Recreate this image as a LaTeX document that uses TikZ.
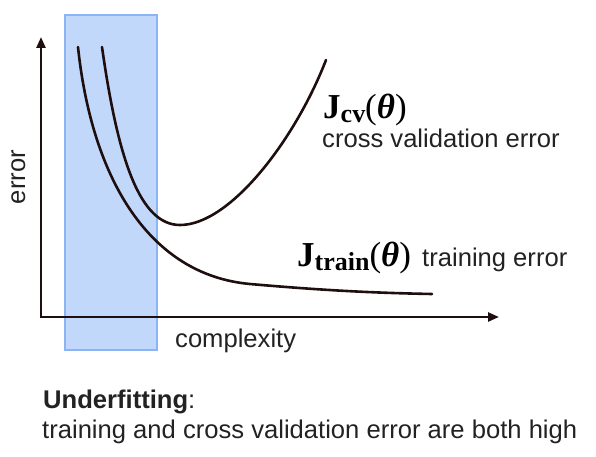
\documentclass[tikz,border=0pt]{standalone}
\usepackage{fontspec}
\setmainfont{Liberation Sans}
\newfontfamily\jfont{Liberation Serif}
\usetikzlibrary{arrows.meta}
\definecolor{curvecol}{RGB}{30,14,14}
\definecolor{bandfill}{RGB}{193,216,250}
\definecolor{bandedge}{RGB}{138,180,244}
\definecolor{txtcol}{RGB}{34,34,34}
\begin{document}
\begin{tikzpicture}[x=1pt,y=-1pt,
  curve/.style={draw=curvecol,line width=2.6pt,line cap=round,line join=round},
  axis/.style={draw=curvecol,line width=2.4pt,{Triangle[length=11pt,width=9pt]}-{Triangle[length=11pt,width=9pt]}},
  lbl/.style={font=\fontsize{25.6}{30}\selectfont,text=txtcol,inner sep=0pt,anchor=base west},
  jlbl/.style={font=\jfont\fontsize{35}{38}\selectfont,text=black,inner sep=0pt,anchor=base west}]
\useasboundingbox (0,0) rectangle (596,457);
% band
\node[draw=bandedge,fill=bandfill,line width=2pt,minimum width=92pt,minimum height=335pt,inner sep=0pt,anchor=north west] (band) at (64,14) {};
% axes
\coordinate (ytop) at (41,37);
\coordinate (orig) at (41,317);
\coordinate (xend) at (499,317);
\draw[axis] (ytop) -- (orig) -- (xend);
% training curve
\coordinate (t0) at (78,47);
\coordinate (t1) at (250,284);
\coordinate (t2) at (432,294);
\draw[curve] (t0) .. controls (92,180) and (150,275) .. (t1)
                  .. controls (330,291) and (380,293) .. (t2);
% cross validation curve
\coordinate (c0) at (102,47);
\coordinate (c1) at (180,225);
\coordinate (c2) at (326,60);
\draw[curve] (c0) .. controls (118,160) and (140,225) .. (c1)
                  .. controls (230,225) and (295,140) .. (c2);
% labels
\node[jlbl] (jcv) at (323,119) {{\bfseries J}\raisebox{-4pt}{\fontsize{26}{26}\selectfont\bfseries cv}(\textbf{\textit{θ}})};
\node[lbl] (cvtxt) at (322,148) {cross validation error};
\node[jlbl] (jtr) at (297,266) {{\bfseries J}\raisebox{-4pt}{\fontsize{26}{26}\selectfont\bfseries train}(\textbf{\textit{θ}})};
\node[lbl] (trtxt) at (422,266) {training error};
\node[lbl] (xlab) at (175,347) {complexity};
\node[lbl,rotate=90,anchor=base] (ylab) at (25,177) {error};
\node[lbl] (title) at (43,408) {\textbf{Underfitting}:};
\node[lbl] (desc) at (42,438) {training and cross validation error are both high};
\end{tikzpicture}
\end{document}
